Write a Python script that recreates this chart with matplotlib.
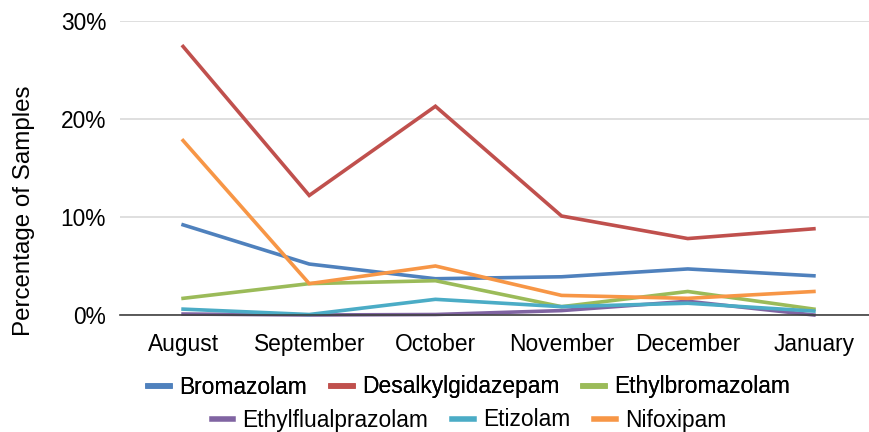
import matplotlib

matplotlib.use("Agg")
import matplotlib.pyplot as plt
from matplotlib.ticker import PercentFormatter

months = ["August", "September", "October", "November", "December", "January"]
series_names = ["Bromazolam", "Desalkylgidazepam", "Ethylbromazolam",
                "Ethylflualprazolam", "Etizolam", "Nifoxipam"]
bromazolam = [9.2, 5.2, 3.7, 3.9, 4.7, 4.0]
desalkylgidazepam = [27.4, 12.2, 21.3, 10.1, 7.8, 8.8]
ethylbromazolam = [1.7, 3.2, 3.5, 0.85, 2.4, 0.6]
ethylflualprazolam = [0.1, 0.0, 0.05, 0.45, 1.4, 0.0]
etizolam = [0.6, 0.05, 1.6, 0.85, 1.2, 0.4]
nifoxipam = [17.8, 3.2, 5.0, 2.0, 1.7, 2.4]
colors = ["#4F81BD", "#C0504D", "#9BBB59", "#8064A2", "#4BACC6", "#F79646"]

plt.rcParams["font.family"] = ["Liberation Sans", "DejaVu Sans"]
FS = 16.4

fig = plt.figure(figsize=(8.69, 4.32), dpi=100)
ax = fig.add_axes([120 / 869, 117 / 432, 757 / 869, 294 / 432])

x = range(len(months))
data = [bromazolam, desalkylgidazepam, ethylbromazolam, ethylflualprazolam, etizolam, nifoxipam]
handles = []
for name, vals, c in zip(series_names, data, colors):
    (h,) = ax.plot(x, [v / 100 for v in vals], color=c, lw=2.6, label=name,
                   solid_joinstyle="miter", clip_on=False)
    handles.append(h)

ax.set_xlim(-0.5, 5.5)
ax.set_ylim(0, 0.30)
ax.set_yticks([0, 0.1, 0.2, 0.3])
ax.yaxis.set_major_formatter(PercentFormatter(1.0, decimals=0))
ax.set_xticks(list(x))
ax.set_xticklabels(months)
ax.tick_params(axis="both", length=0, labelsize=FS, colors="#000000")
ax.tick_params(axis="y", pad=10)
ax.tick_params(axis="x", pad=13)
ax.grid(axis="y", color="#D9D9D9", lw=1.2)
ax.set_axisbelow(True)
for s in ["top", "right", "left"]:
    ax.spines[s].set_visible(False)
ax.spines["bottom"].set_color("#404040")
ax.spines["bottom"].set_linewidth(1.2)
ax.set_ylabel("Percentage of Samples", fontsize=17.4)
ax.yaxis.set_label_coords(-85 / 757, 0.355)

leg_kw = dict(ncol=3, loc="center", frameon=False, fontsize=FS, handlelength=0.95,
              handletextpad=0.4, columnspacing=1.05)
leg1 = fig.legend(handles[:3], series_names[:3], bbox_to_anchor=(469 / 869, 1 - 387 / 432), **leg_kw)
leg2 = fig.legend(handles[3:], series_names[3:], bbox_to_anchor=(469 / 869, 1 - 420 / 432), **leg_kw)
fig.add_artist(leg1)
for leg in (leg1, leg2):
    for ln in leg.get_lines():
        ln.set_linewidth(4)

fig.savefig("out.png", dpi=100)
